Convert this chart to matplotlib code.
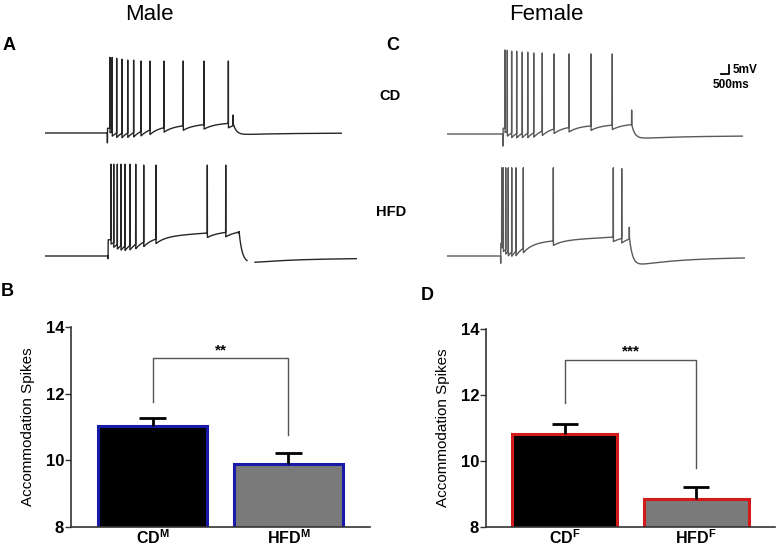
import numpy as np
import matplotlib
matplotlib.use("Agg")
import matplotlib.pyplot as plt

plt.rcParams['font.family'] = ['Liberation Sans', 'DejaVu Sans']
plt.rcParams['mathtext.fontset'] = 'custom'
plt.rcParams['mathtext.rm'] = 'Liberation Sans'
plt.rcParams['mathtext.bf'] = 'Liberation Sans:bold'

# ---- data ----
# traces: times in ms from start of sweep, voltages in mV
male_cd_spikes = [4060, 4200, 4480, 4810, 5170, 5540, 6000, 6560, 7440, 8640, 9940, 11460]
male_cd_peaks = [-23, -23, -23.5, -24, -24.5, -24.5, -25, -25, -25, -25, -25, -25]
male_hfd_spikes = [4125, 4294, 4519, 4750, 5000, 5312, 5669, 6169, 6937, 10144, 11294]
male_hfd_peaks = [-14, -14, -14, -14, -14, -14, -14, -14.5, -14.5, -14.5, -14.5]
female_cd_spikes = [3625, 3770, 4040, 4355, 4705, 5045, 5420, 5955, 6690, 7625, 9000, 10330]
female_cd_peaks = [-18.3, -18.5, -19, -19, -19.5, -19.5, -20, -20, -20.5, -20.5, -20.5, -20.5]
female_hfd_spikes = [3420, 3520, 3670, 3830, 4045, 4310, 4770, 6645, 10395, 10920]
female_hfd_peaks = [-16, -16, -16, -16, -16, -16, -16, -16, -16, -16.5]

# bar charts
groups_m = ['CD$^{\\mathbf{M}}$', 'HFD$^{\\mathbf{M}}$']
means_m = [11.03, 9.9]
sem_m = [0.24, 0.32]
groups_f = ['CD$^{\\mathbf{F}}$', 'HFD$^{\\mathbf{F}}$']
means_f = [10.82, 8.85]
sem_f = [0.3, 0.36]
yticks = [8, 10, 12, 14]

W, H = 778, 548
MS_PER_PX = 62.5
MV_PER_PX = 5 / 9

fig = plt.figure(figsize=(W / 100, H / 100), dpi=100)


def px_rect(left, top, width, height):
    return [left / W, 1 - (top + height) / H, width / W, height / H]


def ftext(x, y, s, **kw):
    fig.text(x / W, 1 - y / H, s, **kw)


def build_trace(t_end, onset, offset, rest, dip, plat0, plat1, spikes, peaks,
                bump, post_min, post_rest, gap=None):
    t = np.arange(0, t_end, 5.0)
    v = np.full_like(t, rest)
    on = (t >= onset) & (t < offset)
    v[on] = plat0 + (plat1 - plat0) * (t[on] - onset) / (offset - onset)
    # after-hyperpolarisation following each spike
    for ts in spikes:
        m = on & (t > ts)
        v[m] -= 2.5 * np.exp(-(t[m] - ts) / 600.0)
    for ts, pk in zip(spikes, peaks):
        v[np.argmin(np.abs(t - ts))] = pk
    v[np.argmin(np.abs(t - onset))] = dip
    # end of step: rebound then decay below rest and slow return
    after = t >= offset
    dt = t[after] - offset
    v[after] = (post_rest + (plat1 - post_rest) * np.exp(-dt / 200.0)
                + (post_min - post_rest) * (1 - np.exp(-dt / 200.0)) * np.exp(-dt / 3000.0))
    v[np.argmin(np.abs(t - offset))] = bump
    if gap is not None:
        v[(t > gap[0]) & (t < gap[1])] = np.nan
    return t, v


def trace_axes(left_px, rest_py, rest_mv, t_end, vlo=-80, vhi=-5):
    top = rest_py - (vhi - rest_mv) / MV_PER_PX
    bot = rest_py + (rest_mv - vlo) / MV_PER_PX
    ax = fig.add_axes(px_rect(left_px, top, t_end / MS_PER_PX, bot - top))
    ax.set_xlim(0, t_end)
    ax.set_ylim(vlo, vhi)
    ax.axis('off')
    return ax


# ---- traces ----
ax = trace_axes(45, 133, -65, 18550)
t, v = build_trace(18550, 3900, 11750, -65, -70.5, -62.4, -59.3,
                   male_cd_spikes, male_cd_peaks, -55, -66.1, -65)
ax.plot(t, v, color='#262626', lw=1.0)

ax = trace_axes(45, 256, -65, 19500)
t, v = build_trace(19500, 3940, 12125, -65, -66.5, -56, -51,
                   male_hfd_spikes, male_hfd_peaks, -52.5, -69.5, -66.2,
                   gap=(12625, 13125))
ax.plot(t, v, color='#262626', lw=1.0)

ax = trace_axes(447, 134, -65, 18500)
t, v = build_trace(18500, 3500, 11540, -65, -71.7, -61.8, -59.4,
                   female_cd_spikes, female_cd_peaks, -51.7, -67.8, -66)
ax.plot(t, v, color='#5a5a5a', lw=1.0)
# scale bar: 500 ms / 5 mV
ax.plot([17125, 17625, 17625], [-31.7, -31.7, -26.7], color='black', lw=1.3,
        clip_on=False)

ax = trace_axes(447, 256, -65, 18625)
t, v = build_trace(18625, 3355, 11395, -65, -69, -58, -54,
                   female_hfd_spikes, female_hfd_peaks, -49, -71, -65.6)
ax.plot(t, v, color='#5a5a5a', lw=1.0)

# ---- text in the top half ----
ftext(149, 14, 'Male', fontsize=16, ha='center', va='center')
ftext(546, 14, 'Female', fontsize=16, ha='center', va='center')
ftext(9, 45, 'A', fontsize=13, fontweight='bold', ha='center', va='center')
ftext(393, 45, 'C', fontsize=13, fontweight='bold', ha='center', va='center')
ftext(390, 96, 'CD', fontsize=10.5, fontweight='bold', ha='center', va='center')
ftext(391, 212, 'HFD', fontsize=10.5, fontweight='bold', ha='center', va='center')
ftext(733, 70, '5mV', fontsize=8.5, fontweight='bold', ha='left', va='center')
ftext(731, 85, '500ms', fontsize=8.5, fontweight='bold', ha='center', va='center')
ftext(7, 291, 'B', fontsize=13, fontweight='bold', ha='center', va='center')
ftext(427, 295, 'D', fontsize=13, fontweight='bold', ha='center', va='center')


# ---- bar charts ----
def bar_panel(rect, groups, means, sems, edge, stars, right_drop):
    ax = fig.add_axes(rect)
    x = np.arange(len(groups))
    ax.bar(x, means, width=0.8, bottom=0, color=['black', '#7a7a7a'],
           edgecolor=edge, linewidth=2.2, zorder=2)
    ax.vlines(x, means, np.array(means) + np.array(sems), color='black', lw=2, zorder=3)
    ax.hlines(np.array(means) + np.array(sems), x - 0.1, x + 0.1, color='black',
              lw=2, zorder=3)
    ax.set_ylim(8, 14)
    ax.set_xlim(-0.6, 1.6)
    ax.set_yticks(yticks)
    ax.set_yticklabels([str(y) for y in yticks], fontsize=12, fontweight='bold')
    ax.set_xticks(x)
    ax.set_xticklabels(groups, fontsize=11.5, fontweight='bold')
    ax.tick_params(axis='x', length=0, pad=1)
    ax.tick_params(axis='y', length=4, width=1, color='#333333', pad=1)
    for s in ['top', 'right']:
        ax.spines[s].set_visible(False)
    for s in ['left', 'bottom']:
        ax.spines[s].set_color('#333333')
        ax.spines[s].set_linewidth(1.2)
    ax.set_ylabel('Accommodation Spikes', fontsize=11)
    ax.yaxis.set_label_coords(-36 / (rect[2] * W), 0.5)
    # significance bracket
    ax.plot([0, 0, 1, 1], [11.75, 13.07, 13.07, right_drop], color='#555555', lw=1)
    ax.text(0.5, 13.1, stars, ha='center', va='bottom', fontsize=11, fontweight='bold')
    return ax


bar_panel(px_rect(71, 327, 299, 200), groups_m, means_m, sem_m, '#1a1aa8', '**', 10.75)
bar_panel(px_rect(486, 329, 289, 198), groups_f, means_f, sem_f, '#d41a1a', '***', 9.8)

fig.savefig('out.png', dpi=100)
